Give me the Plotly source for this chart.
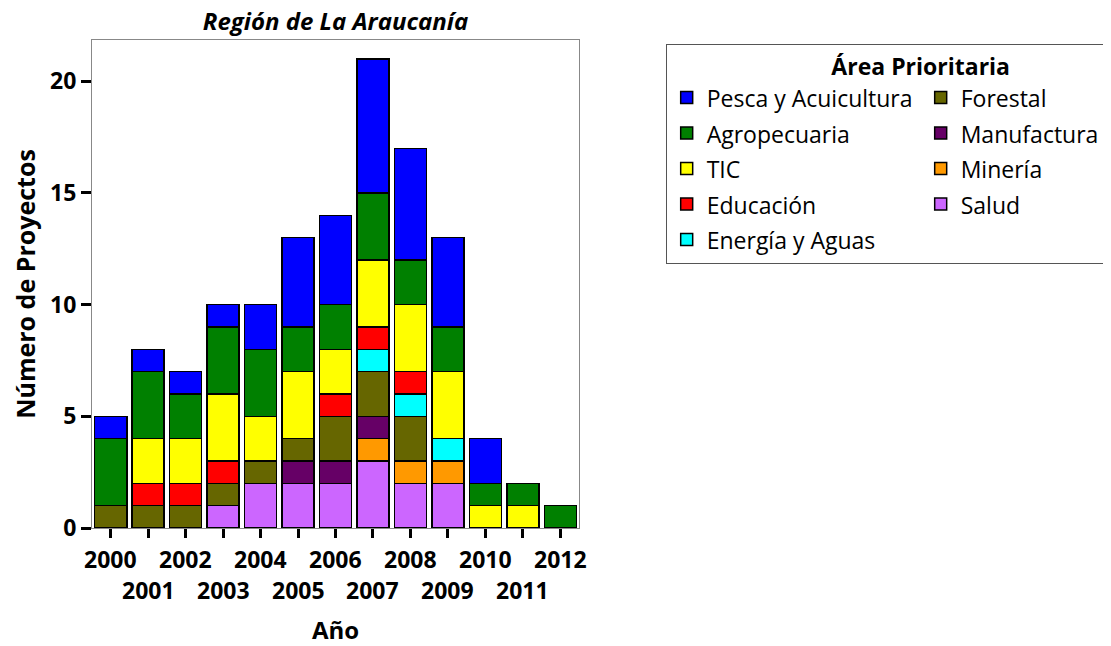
import plotly.graph_objects as go

years = ["2000", "2001", "2002", "2003", "2004", "2005", "2006",
         "2007", "2008", "2009", "2010", "2011", "2012"]

# stacked bottom -> top
salud       = [0, 0, 0, 1, 2, 2, 2, 3, 2, 2, 0, 0, 0]
mineria     = [0, 0, 0, 0, 0, 0, 0, 1, 1, 1, 0, 0, 0]
manufactura = [0, 0, 0, 0, 0, 1, 1, 1, 0, 0, 0, 0, 0]
forestal    = [1, 1, 1, 1, 1, 1, 2, 2, 2, 0, 0, 0, 0]
energia     = [0, 0, 0, 0, 0, 0, 0, 1, 1, 1, 0, 0, 0]
educacion   = [0, 1, 1, 1, 0, 0, 1, 1, 1, 0, 0, 0, 0]
tic         = [0, 2, 2, 3, 2, 3, 2, 3, 3, 3, 1, 1, 0]
agro        = [3, 3, 2, 3, 3, 2, 2, 3, 2, 2, 1, 1, 1]
pesca       = [1, 1, 1, 1, 2, 4, 4, 6, 5, 4, 2, 0, 0]

series = [
    ("Salud", salud, "#CC66FF", 8),
    ("Minería", mineria, "#FF9900", 6),
    ("Manufactura", manufactura, "#660066", 4),
    ("Forestal", forestal, "#666600", 2),
    ("Energía y Aguas", energia, "#00FFFF", 9),
    ("Educación", educacion, "#FF0000", 7),
    ("TIC", tic, "#FFFF00", 5),
    ("Agropecuaria", agro, "#008000", 3),
    ("Pesca y Acuicultura", pesca, "#0000FF", 1),
]

FONT = "Open Sans"
W, H = 1103, 638  # page body has an 8px margin

fig = go.Figure()
for name, vals, color, rank in series:
    fig.add_trace(go.Bar(
        x=years, y=vals,
        name='<span style="font-size:23px">' + name + '</span>',
        marker=dict(color=color, line=dict(color="black", width=1.5)),
        legendrank=rank,
    ))

annotations = []
for i, yr in enumerate(years):
    annotations.append(dict(
        x=i, y=0, xref="x", yref="paper", yanchor="top", showarrow=False,
        text="<b>" + yr + "</b>", font=dict(family=FONT, size=23, color="black"),
        yshift=-13 if i % 2 == 0 else -44,
    ))

fig.update_layout(
    width=W, height=H,
    barmode="stack", bargap=0.145,
    plot_bgcolor="white", paper_bgcolor="white",
    margin=dict(l=84, r=532, t=32, b=118, autoexpand=False),
    font=dict(family=FONT, color="black"),
    title=dict(text="<b><i>Región de La Araucanía</i></b>", x=0.5, xref="paper",
               y=1, yref="container", xanchor="center", yanchor="top",
               pad=dict(t=5, b=0),
               font=dict(family=FONT, size=24, color="black")),
    xaxis=dict(type="category", range=[-0.5, len(years) - 0.5],
               showticklabels=False, ticks="outside", ticklen=9,
               tickwidth=3, tickcolor="black", showline=True, linecolor="#888888",
               linewidth=1, mirror=True, showgrid=False,
               title=dict(text="<b>Año</b>", font=dict(family=FONT, size=24), standoff=89)),
    yaxis=dict(range=[0, 21.85], tickvals=[0, 5, 10, 15, 20], ticks="outside",
               ticklen=10, tickwidth=3, tickcolor="black", showline=True,
               linecolor="#888888", linewidth=1, mirror=True, showgrid=False,
               zeroline=False,
               tickfont=dict(family=FONT, size=23, weight="bold"),
               title=dict(text="<b>Número de Proyectos</b>",
                          font=dict(family=FONT, size=25), standoff=12)),
    legend=dict(
        x=1.178, y=0.992, xanchor="left", yanchor="top", xref="paper", yref="paper",
        orientation="h", entrywidth=209, entrywidthmode="pixels",
        bordercolor="#555555", borderwidth=1,
        font=dict(family=FONT, size=25, color="black"),
        title=dict(text="<b>Área Prioritaria</b>", side="top center",
                   font=dict(family=FONT, size=23, color="black")),
        traceorder="normal",
    ),
    annotations=annotations,
)

fig.write_html("out.html")
